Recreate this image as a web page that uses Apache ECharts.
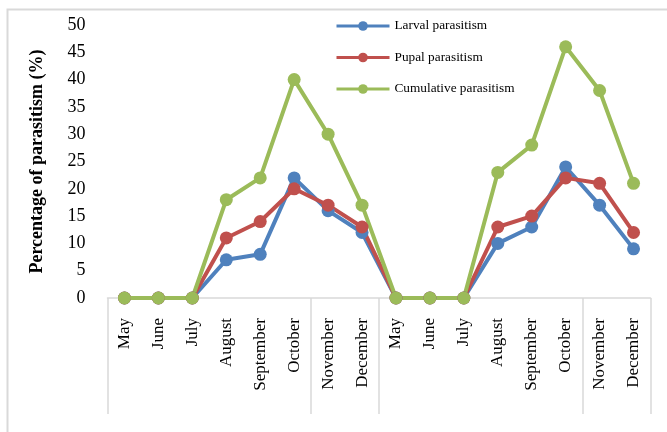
<!DOCTYPE html>
<html>
<head>
<meta charset="utf-8">
<script src="https://cdn.jsdelivr.net/npm/echarts@6/dist/echarts.min.js"></script>
<style>
html,body{margin:0;padding:0;background:#fff;}
#c{width:667px;height:432px;}
</style>
</head>
<body>
<div id="c"></div>
<script>
var categories = ['May','June','July','August','September','October','November','December',
                  'May','June','July','August','September','October','November','December'];
var larval = [0,0,0,7,8,22,16,12,0,0,0,10,13,24,17,9];
var pupal = [0,0,0,11,14,20,17,13,0,0,0,13,15,22,21,12];
var cumulative = [0,0,0,18,22,40,30,17,0,0,0,23,28,46,38,21];
var groupStarts = [0,6,8,14];
var yMin = 0, yMax = 50, yStep = 5;

var serif = '"Liberation Serif","Times New Roman",serif';
var chart = echarts.init(document.getElementById('c'));

function mk(name, data, color){
  return {
    name: name, type: 'line', data: data,
    symbol: 'circle', symbolSize: 13,
    lineStyle: {width: 4, color: color, join: 'round'},
    itemStyle: {color: color},
    emphasis: {disabled: true},
    animation: false
  };
}

chart.setOption({
  animation: false,
  graphic: [{
    type: 'rect', left: 5, top: 7,
    shape: {width: 700, height: 500},
    style: {fill: 'none', stroke: '#d9d9d9', lineWidth: 2},
    silent: true
  }],
  legend: {
    left: 335, top: 19.5, orient: 'vertical', padding: 0,
    itemWidth: 53, itemHeight: 12, itemGap: 18.5,
    textStyle: {fontFamily: serif, fontSize: 13.3, color: '#000'},
    lineStyle: {width: 3},
    data: ['Larval parasitism','Pupal parasitism','Cumulative parasitism']
  },
  grid: {left: 107.5, right: 16.5, top: 25, bottom: 134},
  xAxis: {
    type: 'category', data: categories, boundaryGap: true,
    axisLine: {lineStyle: {color: '#d9d9d9', width: 1.5}},
    axisTick: {
      show: true, length: 116,
      interval: function(i){ return groupStarts.indexOf(i) >= 0; },
      lineStyle: {color: '#d9d9d9', width: 1.5}
    },
    axisLabel: {rotate: 90, interval: 0, margin: 20, fontFamily: serif, fontSize: 17, color: '#000'},
    splitLine: {show: false}
  },
  yAxis: {
    type: 'value', min: yMin, max: yMax, interval: yStep,
    name: 'Percentage of parasitism (%)',
    nameLocation: 'middle', nameGap: 61, nameRotate: 90,
    nameTextStyle: {fontFamily: serif, fontSize: 18, fontWeight: 'bold', color: '#000'},
    axisLine: {show: false}, axisTick: {show: false},
    splitLine: {show: false},
    axisLabel: {margin: 22, fontFamily: serif, fontSize: 18, color: '#000'}
  },
  series: [
    mk('Larval parasitism', larval, '#4F81BD'),
    mk('Pupal parasitism', pupal, '#C0504D'),
    mk('Cumulative parasitism', cumulative, '#9BBB59')
  ]
});
</script>
</body>
</html>
